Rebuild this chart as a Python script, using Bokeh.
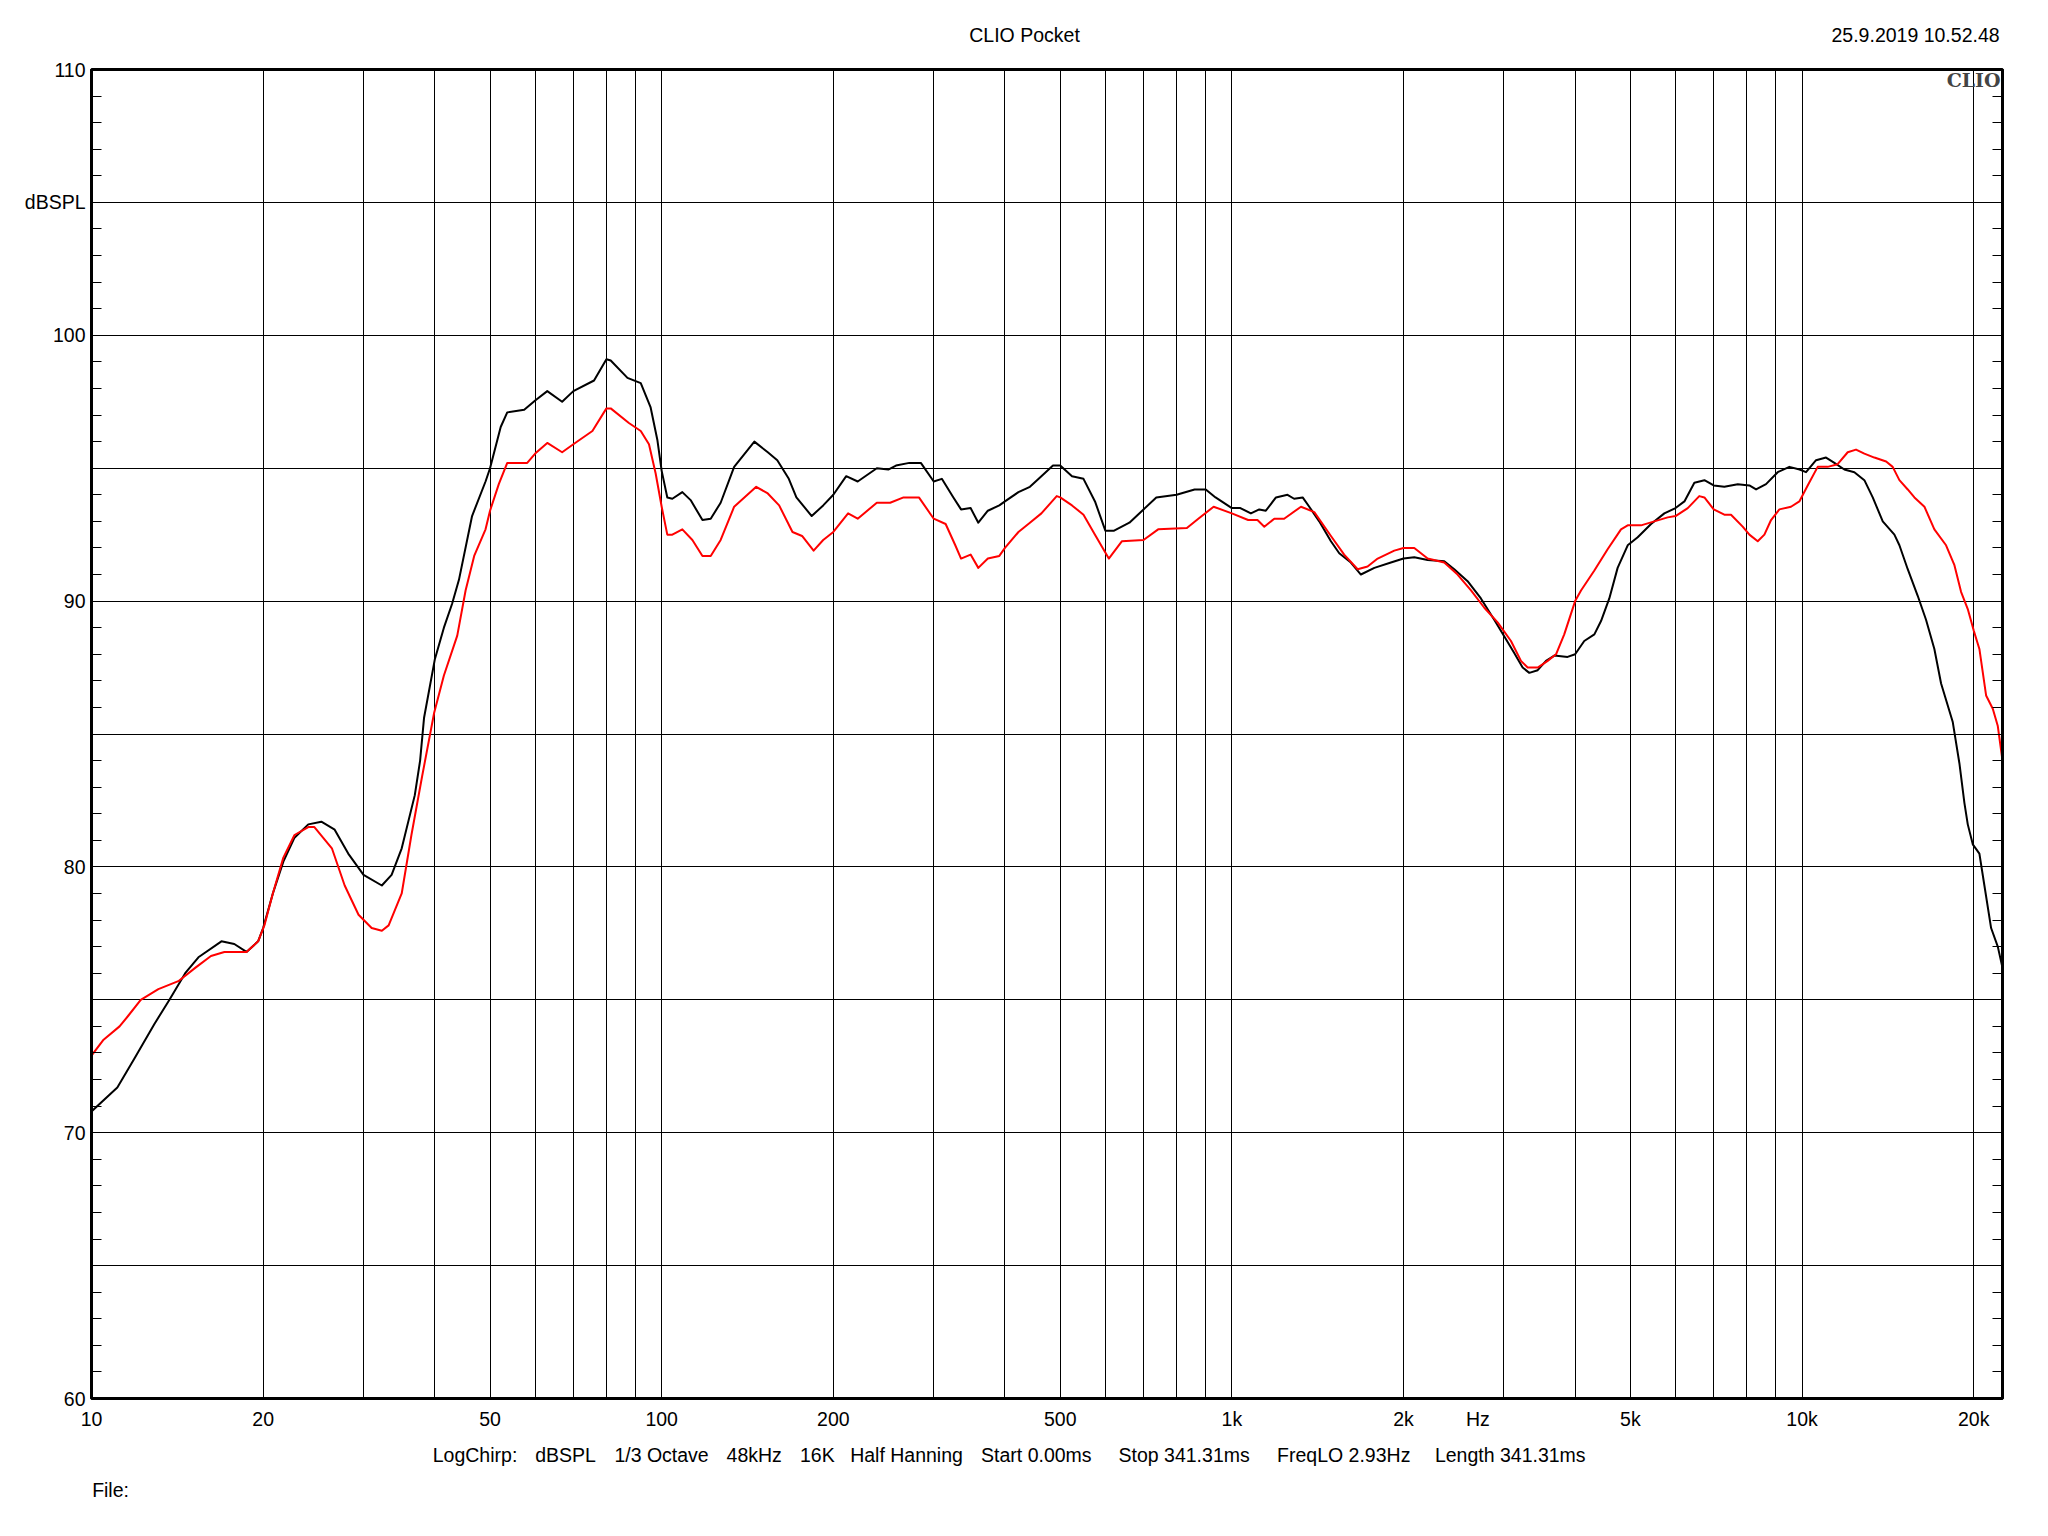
from bokeh.plotting import figure
from bokeh.models import Range1d, FixedTicker, LinearAxis, Label
from bokeh.embed import file_html
from bokeh.resources import INLINE

# ---------------- data ----------------
freq_black = [10, 11.1, 11.9, 12.9, 13.7, 14.6, 15.4, 16.9, 17.8, 18.7, 19.6, 20, 20.8, 21.7,
              22.7, 24.0, 25.3, 26.7, 28.2, 30, 32.3, 33.6, 35, 36.9, 37.7, 38.3, 40, 41.5,
              42.9, 44.1, 46.5, 49.1, 50, 52.2, 53.6, 57.4, 60, 63.0, 66.9, 70, 76.1, 80,
              81.4, 87.1, 91.9, 95.6, 98.3, 100, 102.3, 104.4, 108.7, 112.4, 117.9, 121.9,
              126.9, 134, 145.4, 153.5, 159.5, 167.1, 172.3, 183.3, 192, 200, 210.7, 220.7,
              238.4, 249.7, 257.6, 271.9, 284.8, 300, 310, 324.8, 335, 348.2, 359.2, 373.3,
              391, 400, 422.4, 442.4, 463.4, 485.6, 500, 524.4, 549.3, 575.4, 600, 621.6,
              661.2, 700, 737, 800, 860.3, 900, 936.3, 1000, 1035, 1080, 1117, 1147, 1195,
              1252, 1286, 1331, 1367, 1423, 1492, 1543, 1617, 1684, 1778, 1901, 2000, 2089,
              2205, 2358, 2455, 2591, 2734, 2885, 3000, 3128, 3236, 3324, 3439, 3556, 3678,
              3880, 4000, 4150, 4323, 4441, 4592, 4749, 4946, 5150, 5435, 5735, 6000, 6219,
              6474, 6742, 7000, 7307, 7715, 8084, 8306, 8647, 9064, 9502, 9900, 10163,
              10583, 11019, 11396, 11865, 12354, 12863, 13305, 13854, 14521, 14818, 15325,
              15955, 16500, 17065, 17535, 18381, 18880, 19268, 19529, 19929, 20468, 20886,
              21460, 22047, 22470]
spl_black = [70.8, 71.7, 72.8, 74.1, 75.0, 76.0, 76.6, 77.2, 77.1, 76.8, 77.2, 77.7, 79.0, 80.2,
             81.1, 81.6, 81.7, 81.4, 80.5, 79.7, 79.3, 79.7, 80.7, 82.7, 84.0, 85.6, 87.8, 89.0,
             89.9, 90.8, 93.2, 94.5, 95.0, 96.55, 97.1, 97.2, 97.55, 97.9, 97.5, 97.9, 98.3, 99.1,
             99.05, 98.4, 98.2, 97.3, 96.05, 94.9, 93.9, 93.85, 94.1, 93.8, 93.05, 93.1,
             93.7, 95.05, 96.0, 95.6, 95.3, 94.6, 93.9, 93.2, 93.6, 94.0, 94.7, 94.5,
             95.0, 94.95, 95.1, 95.2, 95.2, 94.5, 94.6, 93.9, 93.45, 93.5, 92.95, 93.4,
             93.6, 93.75, 94.1, 94.3, 94.7, 95.1, 95.1, 94.7, 94.6, 93.75, 92.65, 92.65,
             92.95, 93.45, 93.9, 94.0, 94.2, 94.2, 93.9, 93.5, 93.5, 93.3, 93.45, 93.4, 93.9,
             94.0, 93.85, 93.9, 93.55, 93.0, 92.25, 91.8, 91.45, 91.0, 91.25, 91.45, 91.6, 91.65,
             91.55, 91.5, 91.2, 90.75, 90.1, 89.3, 88.7, 88.05, 87.5, 87.3, 87.4, 87.75, 87.95,
             87.9, 88.0, 88.5, 88.75, 89.25, 90.1, 91.25, 92.1, 92.4, 92.9, 93.3, 93.5, 93.75,
             94.45, 94.55, 94.35, 94.3, 94.4, 94.35, 94.2, 94.4, 94.85, 95.05, 94.95, 94.85,
             95.3, 95.4, 95.2, 94.95, 94.85, 94.55, 93.9, 93.0, 92.5, 92.1, 91.2,
             90.2, 89.3, 88.2, 86.9, 85.45, 83.9, 82.4, 81.6, 80.85, 80.5, 79.3,
             77.7, 77.0, 76.2]

freq_red = [10, 10.5, 11.2, 11.6, 12.2, 13.1, 14.2, 15.2, 16.2, 17.1, 18.7, 19.6, 20.1, 20.8,
            21.7, 22.7, 24, 24.6, 26.4, 27.8, 29.4, 31, 32.3, 33.2, 35, 36.4, 38.0, 39.9,
            41.5, 43.8, 45.3, 46.9, 49.1, 50, 51.8, 53.6, 55.1, 58.1, 60, 63, 66.9, 70, 75.6,
            80, 81.4, 87.6, 91.9, 95, 97.6, 100, 102.3, 104.4, 108.7, 113.2, 117.9, 121.9,
            126.9, 134, 146.5, 153.5, 160.7, 169.6, 176.3, 184.7, 192, 200, 212.3, 220.7,
            238.4, 251.6, 265.6, 282.6, 300, 314.8, 327.3, 335, 348.2, 359.2, 373.3, 391,
            400, 422.4, 442.4, 463.4, 493, 500, 524.4, 549.3, 575.4, 608.4, 641.2, 700,
            742.6, 833.9, 873.4, 929, 1000, 1068, 1109, 1140, 1187, 1235, 1322, 1395, 1492,
            1574, 1662, 1730, 1802, 1927, 2000, 2089, 2205, 2358, 2488, 2627, 2772, 2925,
            3087, 3214, 3302, 3439, 3580, 3703, 3828, 4000, 4096, 4323, 4561, 4814, 4946,
            5219, 5508, 5813, 6000, 6304, 6604, 6742, 7000, 7307, 7507, 7869, 8085, 8362,
            8590, 8824, 9126, 9565, 9893, 10231, 10653, 11092, 11547, 12026, 12436, 12863,
            13393, 14046, 14421, 14818, 15325, 15745, 16394, 17065, 17890, 18505, 19007,
            19529, 20000, 20468, 21030, 21605, 22047, 22470]
spl_red = [72.9, 73.5, 74.0, 74.4, 75.0, 75.4, 75.7, 76.2, 76.65, 76.8, 76.8, 77.2, 77.8, 79.0,
           80.35, 81.2, 81.5, 81.5, 80.7, 79.3, 78.2, 77.7, 77.6, 77.8, 79.0, 81.2, 83.4, 85.8,
           87.2, 88.7, 90.4, 91.7, 92.7, 93.4, 94.4, 95.2, 95.2, 95.2, 95.55, 95.95, 95.6, 95.9, 96.4,
           97.25, 97.25, 96.7, 96.4, 95.9, 94.8, 93.55, 92.5, 92.5, 92.7, 92.3, 91.7, 91.7,
           92.3, 93.55, 94.3, 94.05, 93.6, 92.6, 92.45, 91.9, 92.3, 92.6, 93.3, 93.1,
           93.7, 93.7, 93.9, 93.9, 93.1, 92.9, 92.1, 91.6, 91.75, 91.25, 91.6, 91.7,
           92.0, 92.6, 92.95, 93.3, 93.95, 93.9, 93.6, 93.25, 92.5, 91.6, 92.25, 92.3,
           92.7, 92.75, 93.1, 93.55, 93.3, 93.05, 93.05, 92.8, 93.1, 93.1, 93.55, 93.35, 92.45,
           91.75, 91.2, 91.3, 91.6, 91.9, 92.0, 92.0, 91.6, 91.45, 91.0, 90.4, 89.75, 89.2,
           88.5, 87.75, 87.5, 87.5, 87.75, 88.0, 88.75, 90.0, 90.4, 91.15, 91.95, 92.7, 92.85,
           92.85, 93.0, 93.15, 93.2, 93.5, 93.95, 93.9, 93.45, 93.25, 93.25, 92.8, 92.5, 92.25,
           92.5, 93.05, 93.45, 93.55, 93.75, 94.35, 95.05, 95.05, 95.15, 95.6, 95.7, 95.55,
           95.4, 95.25, 95.05, 94.55, 94.2, 93.9, 93.55, 92.7, 92.1, 91.35, 90.35,
           89.7, 88.9, 88.2, 86.45, 85.95, 85.3, 84.0]

x_label_ticks = [10, 20, 50, 100, 200, 500, 1000, 2000, 2700, 5000, 10000, 20000]
x_label_text = ["10", "20", "50", "100", "200", "500", "1k", "2k", "Hz", "5k", "10k", "20k"]
x_grid = [10, 20, 30, 40, 50, 60, 70, 80, 90, 100, 200, 300, 400, 500, 600, 700, 800, 900,
          1000, 2000, 3000, 4000, 5000, 6000, 7000, 8000, 9000, 10000, 20000]
y_label_ticks = [60, 70, 80, 90, 100, 105, 110]
y_label_text = ["60", "70", "80", "90", "100", "dBSPL", "110"]
y_grid = [60, 65, 70, 75, 80, 85, 90, 95, 100, 105, 110]
y_minor = list(range(60, 111))

header_texts = ["CLIO Pocket", "25.9.2019 10.52.48"]
logo_text = "CLIO"
footer_texts = ["LogChirp:", "dBSPL", "1/3 Octave", "48kHz", "16K", "Half Hanning",
                "Start 0.00ms", "Stop 341.31ms", "FreqLO 2.93Hz", "Length 341.31ms"]
file_texts = ["File:"]

# ---------------- layout (page pixels) ----------------
FX0, FX1, FY0, FY1 = 91, 2002, 69, 1398
X_MIN, X_MAX = 10.0, 22470.0
PX_PER_DEC = (FX1 - FX0) / 3.3517
PX_PER_DB = (FY1 - FY0) / 50.0
W, H = 2040, 1528


def px_to_f(px):
    return round(10 ** (1 + (px - FX0) / PX_PER_DEC), 2)


def py_to_db(py):
    return 110 - (py - FY0) / PX_PER_DB


header_px = [1024, 1915]
footer_px = [474.5, 565, 661, 753.7, 816.8, 906, 1035.8, 1183.6, 1343.2, 1509.7]
file_px = [110]

FONT = "Liberation Sans"
FS = "19.5px"

p = figure(width=W, height=H, x_axis_type="log",
           x_range=Range1d(X_MIN, X_MAX), y_range=Range1d(60, 110),
           output_backend="svg", toolbar_location=None, title=None,
           min_border_left=FX0, min_border_right=W - FX1,
           min_border_top=FY0, min_border_bottom=H - FY1)
p.background_fill_color = "white"
p.border_fill_color = "white"
p.outline_line_color = "black"
p.outline_line_width = 3

# x axis
xa = p.xaxis[0]
xa.ticker = FixedTicker(ticks=x_label_ticks, minor_ticks=[])
xa.major_label_overrides = {t: s for t, s in zip(x_label_ticks, x_label_text)}
xa.major_tick_in = 0
xa.major_tick_out = 0
xa.minor_tick_in = 0
xa.minor_tick_out = 0
xa.axis_line_width = 3
xa.axis_line_color = "black"
xa.major_label_standoff = 9
xa.major_label_text_font = FONT
xa.major_label_text_font_size = FS
xa.major_label_text_color = "black"

# y axis (left)
ya = p.yaxis[0]
ya.ticker = FixedTicker(ticks=y_label_ticks, minor_ticks=y_minor)
ya.major_label_overrides = {t: s for t, s in zip(y_label_ticks, y_label_text)}
ya.major_tick_in = 10
ya.major_tick_out = 0
ya.minor_tick_in = 10
ya.minor_tick_out = 0
ya.major_tick_line_color = "black"
ya.minor_tick_line_color = "black"
ya.axis_line_width = 3
ya.major_label_standoff = 6
ya.major_label_text_font = FONT
ya.major_label_text_font_size = FS
ya.major_label_text_color = "black"

# right axis with inside ticks only
ra = LinearAxis(ticker=FixedTicker(ticks=y_grid, minor_ticks=y_minor),
                major_label_overrides={t: "" for t in y_grid},
                major_tick_in=10, major_tick_out=0, minor_tick_in=10, minor_tick_out=0,
                axis_line_width=3, major_label_standoff=0,
                major_label_text_font_size="1px")
p.add_layout(ra, "right")


def text_axis(px_list, texts, standoff):
    ticks = [px_to_f(v) for v in px_list]
    return LinearAxis(ticker=FixedTicker(ticks=ticks, minor_ticks=[]),
                      major_label_overrides={t: s for t, s in zip(ticks, texts)},
                      axis_line_color=None, major_tick_line_color=None,
                      minor_tick_line_color=None, major_tick_in=0, major_tick_out=0,
                      minor_tick_in=0, minor_tick_out=0,
                      major_label_standoff=standoff, major_label_text_font=FONT,
                      major_label_text_font_size=FS, major_label_text_color="black")


# header texts (above), footer lines (below, stacked after the x axis)
p.add_layout(text_axis(header_px, header_texts, 24), "above")
p.add_layout(text_axis(footer_px, footer_texts, 11), "below")
p.add_layout(text_axis(file_px, file_texts, 10), "below")

# grids
p.xgrid.ticker = FixedTicker(ticks=x_grid)
p.ygrid.ticker = FixedTicker(ticks=y_grid)
for g in (p.xgrid[0], p.ygrid[0]):
    g.grid_line_color = "black"
    g.grid_line_width = 1
    g.grid_line_alpha = 1.0

# curves
p.line(freq_black, spl_black, line_color="black", line_width=2, line_join="round")
p.line(freq_red, spl_red, line_color="#ff0000", line_width=2, line_join="round")

# CLIO logo inside the frame, top right
p.add_layout(Label(x=px_to_f(2000), y=py_to_db(79), text=logo_text, text_font="DejaVu Serif",
                   text_font_style="bold", text_font_size="19px", text_align="right",
                   text_baseline="middle"))

open("out.html", "w").write(file_html(p, INLINE))
